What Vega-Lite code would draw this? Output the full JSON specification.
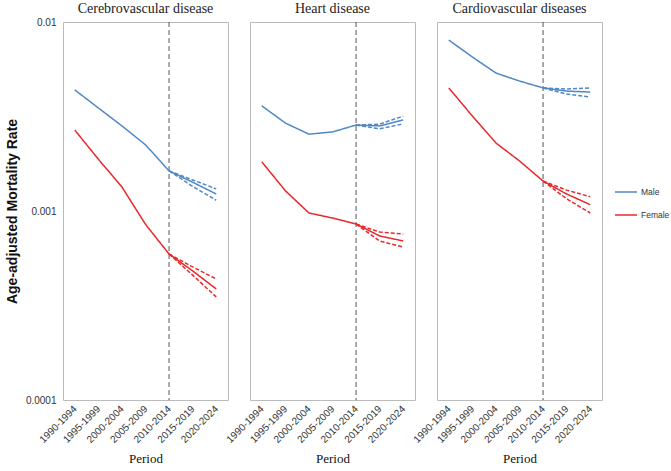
{
  "$schema": "https://vega.github.io/schema/vega-lite/v6.json",
  "padding": {"left": 5, "top": 2, "right": 2, "bottom": 2},
  "background": "white",
  "data": {"values": [
    {"d": "Cerebrovascular disease", "s": "Male", "k": "Estimate", "p": "1990-1994", "v": 0.00437},
    {"d": "Cerebrovascular disease", "s": "Male", "k": "Estimate", "p": "1995-1999", "v": 0.00351},
    {"d": "Cerebrovascular disease", "s": "Male", "k": "Estimate", "p": "2000-2004", "v": 0.00282},
    {"d": "Cerebrovascular disease", "s": "Male", "k": "Estimate", "p": "2005-2009", "v": 0.00224},
    {"d": "Cerebrovascular disease", "s": "Male", "k": "Estimate", "p": "2010-2014", "v": 0.00163},
    {"d": "Cerebrovascular disease", "s": "Male", "k": "Estimate", "p": "2015-2019", "v": 0.00142},
    {"d": "Cerebrovascular disease", "s": "Male", "k": "Estimate", "p": "2020-2024", "v": 0.00123},
    {"d": "Cerebrovascular disease", "s": "Male", "k": "Upper", "p": "2010-2014", "v": 0.00163},
    {"d": "Cerebrovascular disease", "s": "Male", "k": "Upper", "p": "2015-2019", "v": 0.00146},
    {"d": "Cerebrovascular disease", "s": "Male", "k": "Upper", "p": "2020-2024", "v": 0.00131},
    {"d": "Cerebrovascular disease", "s": "Male", "k": "Lower", "p": "2010-2014", "v": 0.00163},
    {"d": "Cerebrovascular disease", "s": "Male", "k": "Lower", "p": "2015-2019", "v": 0.00135},
    {"d": "Cerebrovascular disease", "s": "Male", "k": "Lower", "p": "2020-2024", "v": 0.00114},
    {"d": "Cerebrovascular disease", "s": "Female", "k": "Estimate", "p": "1990-1994", "v": 0.00268},
    {"d": "Cerebrovascular disease", "s": "Female", "k": "Estimate", "p": "1995-1999", "v": 0.00188},
    {"d": "Cerebrovascular disease", "s": "Female", "k": "Estimate", "p": "2000-2004", "v": 0.00134},
    {"d": "Cerebrovascular disease", "s": "Female", "k": "Estimate", "p": "2005-2009", "v": 0.000850},
    {"d": "Cerebrovascular disease", "s": "Female", "k": "Estimate", "p": "2010-2014", "v": 0.000592},
    {"d": "Cerebrovascular disease", "s": "Female", "k": "Estimate", "p": "2015-2019", "v": 0.000482},
    {"d": "Cerebrovascular disease", "s": "Female", "k": "Estimate", "p": "2020-2024", "v": 0.000387},
    {"d": "Cerebrovascular disease", "s": "Female", "k": "Upper", "p": "2010-2014", "v": 0.000592},
    {"d": "Cerebrovascular disease", "s": "Female", "k": "Upper", "p": "2015-2019", "v": 0.000506},
    {"d": "Cerebrovascular disease", "s": "Female", "k": "Upper", "p": "2020-2024", "v": 0.000437},
    {"d": "Cerebrovascular disease", "s": "Female", "k": "Lower", "p": "2010-2014", "v": 0.000592},
    {"d": "Cerebrovascular disease", "s": "Female", "k": "Lower", "p": "2015-2019", "v": 0.000458},
    {"d": "Cerebrovascular disease", "s": "Female", "k": "Lower", "p": "2020-2024", "v": 0.000351},
    {"d": "Heart disease", "s": "Male", "k": "Estimate", "p": "1990-1994", "v": 0.00360},
    {"d": "Heart disease", "s": "Male", "k": "Estimate", "p": "1995-1999", "v": 0.00292},
    {"d": "Heart disease", "s": "Male", "k": "Estimate", "p": "2000-2004", "v": 0.00255},
    {"d": "Heart disease", "s": "Male", "k": "Estimate", "p": "2005-2009", "v": 0.00262},
    {"d": "Heart disease", "s": "Male", "k": "Estimate", "p": "2010-2014", "v": 0.00285},
    {"d": "Heart disease", "s": "Male", "k": "Estimate", "p": "2015-2019", "v": 0.00282},
    {"d": "Heart disease", "s": "Male", "k": "Estimate", "p": "2020-2024", "v": 0.00303},
    {"d": "Heart disease", "s": "Male", "k": "Upper", "p": "2010-2014", "v": 0.00285},
    {"d": "Heart disease", "s": "Male", "k": "Upper", "p": "2015-2019", "v": 0.00288},
    {"d": "Heart disease", "s": "Male", "k": "Upper", "p": "2020-2024", "v": 0.00318},
    {"d": "Heart disease", "s": "Male", "k": "Lower", "p": "2010-2014", "v": 0.00285},
    {"d": "Heart disease", "s": "Male", "k": "Lower", "p": "2015-2019", "v": 0.00272},
    {"d": "Heart disease", "s": "Male", "k": "Lower", "p": "2020-2024", "v": 0.00289},
    {"d": "Heart disease", "s": "Female", "k": "Estimate", "p": "1990-1994", "v": 0.00182},
    {"d": "Heart disease", "s": "Female", "k": "Estimate", "p": "1995-1999", "v": 0.00128},
    {"d": "Heart disease", "s": "Female", "k": "Estimate", "p": "2000-2004", "v": 0.000976},
    {"d": "Heart disease", "s": "Female", "k": "Estimate", "p": "2005-2009", "v": 0.000918},
    {"d": "Heart disease", "s": "Female", "k": "Estimate", "p": "2010-2014", "v": 0.000853},
    {"d": "Heart disease", "s": "Female", "k": "Estimate", "p": "2015-2019", "v": 0.000738},
    {"d": "Heart disease", "s": "Female", "k": "Estimate", "p": "2020-2024", "v": 0.000694},
    {"d": "Heart disease", "s": "Female", "k": "Upper", "p": "2010-2014", "v": 0.000853},
    {"d": "Heart disease", "s": "Female", "k": "Upper", "p": "2015-2019", "v": 0.000774},
    {"d": "Heart disease", "s": "Female", "k": "Upper", "p": "2020-2024", "v": 0.000755},
    {"d": "Heart disease", "s": "Female", "k": "Lower", "p": "2010-2014", "v": 0.000853},
    {"d": "Heart disease", "s": "Female", "k": "Lower", "p": "2015-2019", "v": 0.000694},
    {"d": "Heart disease", "s": "Female", "k": "Lower", "p": "2020-2024", "v": 0.000645},
    {"d": "Cardiovascular diseases", "s": "Male", "k": "Estimate", "p": "1990-1994", "v": 0.00803},
    {"d": "Cardiovascular diseases", "s": "Male", "k": "Estimate", "p": "1995-1999", "v": 0.00653},
    {"d": "Cardiovascular diseases", "s": "Male", "k": "Estimate", "p": "2000-2004", "v": 0.00537},
    {"d": "Cardiovascular diseases", "s": "Male", "k": "Estimate", "p": "2005-2009", "v": 0.00487},
    {"d": "Cardiovascular diseases", "s": "Male", "k": "Estimate", "p": "2010-2014", "v": 0.00448},
    {"d": "Cardiovascular diseases", "s": "Male", "k": "Estimate", "p": "2015-2019", "v": 0.00431},
    {"d": "Cardiovascular diseases", "s": "Male", "k": "Estimate", "p": "2020-2024", "v": 0.00426},
    {"d": "Cardiovascular diseases", "s": "Male", "k": "Upper", "p": "2010-2014", "v": 0.00448},
    {"d": "Cardiovascular diseases", "s": "Male", "k": "Upper", "p": "2015-2019", "v": 0.00442},
    {"d": "Cardiovascular diseases", "s": "Male", "k": "Upper", "p": "2020-2024", "v": 0.00448},
    {"d": "Cardiovascular diseases", "s": "Male", "k": "Lower", "p": "2010-2014", "v": 0.00448},
    {"d": "Cardiovascular diseases", "s": "Male", "k": "Lower", "p": "2015-2019", "v": 0.00416},
    {"d": "Cardiovascular diseases", "s": "Male", "k": "Lower", "p": "2020-2024", "v": 0.00401},
    {"d": "Cardiovascular diseases", "s": "Female", "k": "Estimate", "p": "1990-1994", "v": 0.00448},
    {"d": "Cardiovascular diseases", "s": "Female", "k": "Estimate", "p": "1995-1999", "v": 0.00318},
    {"d": "Cardiovascular diseases", "s": "Female", "k": "Estimate", "p": "2000-2004", "v": 0.00229},
    {"d": "Cardiovascular diseases", "s": "Female", "k": "Estimate", "p": "2005-2009", "v": 0.00184},
    {"d": "Cardiovascular diseases", "s": "Female", "k": "Estimate", "p": "2010-2014", "v": 0.00144},
    {"d": "Cardiovascular diseases", "s": "Female", "k": "Estimate", "p": "2015-2019", "v": 0.00123},
    {"d": "Cardiovascular diseases", "s": "Female", "k": "Estimate", "p": "2020-2024", "v": 0.00108},
    {"d": "Cardiovascular diseases", "s": "Female", "k": "Upper", "p": "2010-2014", "v": 0.00144},
    {"d": "Cardiovascular diseases", "s": "Female", "k": "Upper", "p": "2015-2019", "v": 0.00129},
    {"d": "Cardiovascular diseases", "s": "Female", "k": "Upper", "p": "2020-2024", "v": 0.00119},
    {"d": "Cardiovascular diseases", "s": "Female", "k": "Lower", "p": "2010-2014", "v": 0.00144},
    {"d": "Cardiovascular diseases", "s": "Female", "k": "Lower", "p": "2015-2019", "v": 0.00116},
    {"d": "Cardiovascular diseases", "s": "Female", "k": "Lower", "p": "2020-2024", "v": 0.000976}
  ]},
  "facet": {
    "column": {
      "field": "d",
      "type": "nominal",
      "sort": ["Cerebrovascular disease", "Heart disease", "Cardiovascular diseases"],
      "header": {"title": null, "labelFont": "Liberation Serif", "labelFontSize": 14, "labelColor": "#222", "labelPadding": 5}
    }
  },
  "spacing": 20,
  "spec": {
    "width": 165,
    "height": 378,
    "layer": [
      {
        "transform": [{"filter": "datum.k == 'Estimate' && datum.s == 'Male' && datum.p == '2010-2014'"}],
        "mark": {"type": "rule", "strokeDash": [5, 3], "color": "#555", "strokeWidth": 1},
        "encoding": {
          "x": {"field": "p", "type": "ordinal"}
        }
      },
      {
        "mark": {"type": "line", "strokeWidth": 1.5},
        "encoding": {
          "x": {
            "field": "p", "type": "ordinal",
            "scale": {"type": "point", "padding": 0.5},
            "axis": {"title": "Period", "labelAngle": -45, "labelAlign": "right", "labelBaseline": "middle", "labelPadding": 6}
          },
          "y": {
            "field": "v", "type": "quantitative",
            "scale": {"type": "log", "domain": [0.0001, 0.01]},
            "axis": {
              "title": "Age-adjusted Mortality Rate",
              "values": [0.0001, 0.001, 0.01],
              "labelExpr": "datum.value > 0.005 ? '0.01' : datum.value > 0.0005 ? '0.001' : '0.0001'",
              "labelPadding": 6,
              "titlePadding": 6
            }
          },
          "color": {
            "field": "s", "type": "nominal",
            "scale": {"domain": ["Male", "Female"], "range": ["#5087c7", "#e8282b"]},
            "legend": {"title": null, "orient": "none", "legendX": 551, "legendY": 158, "symbolType": "stroke", "symbolSize": 484, "symbolStrokeWidth": 1.5, "labelFontSize": 8.5, "labelFont": "Liberation Sans", "labelColor": "#333", "rowPadding": 6, "labelOffset": 3}
          },
          "strokeDash": {
            "field": "k", "type": "nominal",
            "scale": {"domain": ["Estimate", "Upper", "Lower"], "range": [[1, 0], [4, 2], [4, 2]]},
            "legend": null
          },
          "detail": {"field": "k", "type": "nominal"}
        }
      }
    ]
  },
  "config": {
    "view": {"stroke": "#bbbbbb", "strokeWidth": 1},
    "axis": {
      "grid": false,
      "ticks": false,
      "domain": false,
      "labelFont": "Liberation Sans",
      "labelFontSize": 10,
      "labelColor": "#333",
      "titleColor": "#111"
    },
    "axisX": {"titleFont": "Liberation Serif", "titleFontSize": 13, "titleFontWeight": "normal", "titlePadding": 8},
    "axisY": {"titleFont": "Liberation Sans", "titleFontSize": 14, "titleFontWeight": "bold"}
  }
}
